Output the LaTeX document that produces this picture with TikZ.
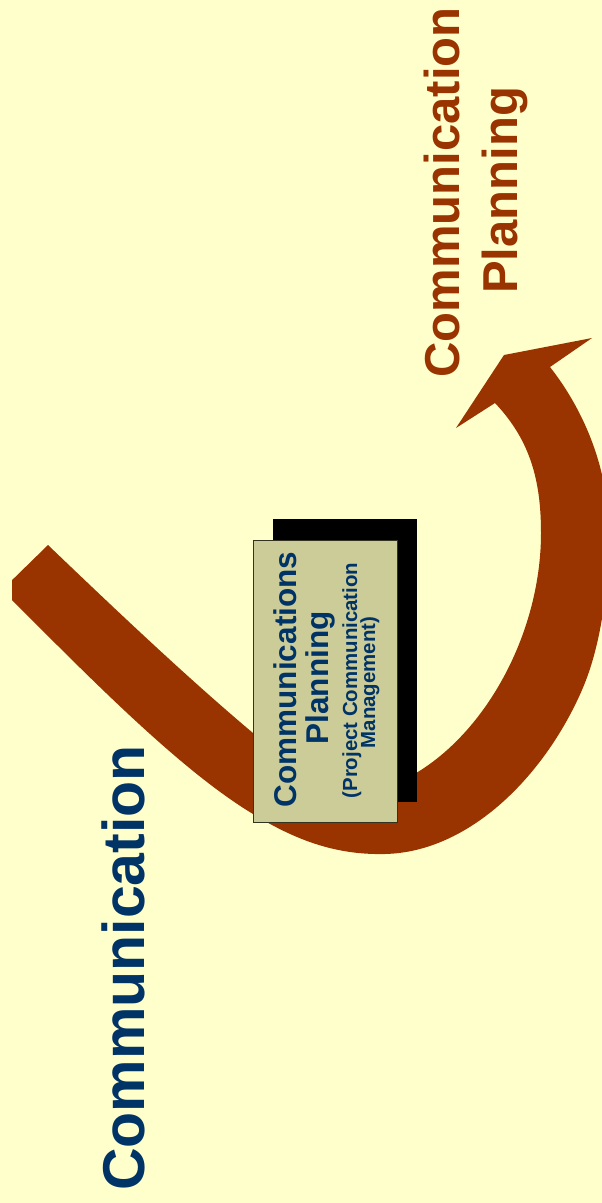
\documentclass[tikz,border=0pt]{standalone}
\usepackage{fontspec}
\setmainfont{Liberation Sans}
\definecolor{bgyellow}{HTML}{FFFFCC}
\definecolor{arrowbrown}{HTML}{993300}
\definecolor{navy}{HTML}{003366}
\definecolor{boxkhaki}{HTML}{CCCC99}
\definecolor{boxline}{HTML}{333322}
\tikzset{
  bigblue/.style={text=navy, font=\bfseries\fontsize{59}{59}\selectfont, rotate=90, anchor=base, inner sep=0pt},
  bigbrown/.style={text=arrowbrown, font=\bfseries\fontsize{49}{49}\selectfont, rotate=90, anchor=base, inner sep=0pt},
  boxbig/.style={text=navy, font=\bfseries\fontsize{31.5}{31.5}\selectfont, rotate=90, anchor=base, inner sep=0pt},
  boxsmall/.style={text=navy, font=\bfseries\fontsize{20.4}{20.4}\selectfont, rotate=90, anchor=base, inner sep=0pt},
  shadowbox/.style={fill=black, draw=none, inner sep=0pt, minimum width=144pt, minimum height=283pt},
  khakibox/.style={fill=boxkhaki, draw=boxline, line width=1pt, inner sep=0pt, minimum width=144pt, minimum height=282pt},
  bandfill/.style={fill=arrowbrown, draw=none}
}
\begin{document}
\begin{tikzpicture}[x=1pt,y=-1pt]
\fill[bgyellow] (0,0) rectangle (602,1203);
\useasboundingbox (0,0) rectangle (602,1203);
\begin{scope}
\clip (12,0) rectangle (602,1203);
\fill[bandfill] (12,600) .. controls (90,678) and (180,770) .. (253,814)
  .. controls (300,843) and (340,855) .. (385,854)
  .. controls (470,852) and (545,775) .. (582,690)
  .. controls (602,644) and (610,580) .. (608,520)
  .. controls (606,460) and (580,405) .. (550,367)
  -- (592,338) -- (504,355) -- (456,428) -- (495,403)
  .. controls (530,440) and (541,480) .. (541,533)
  .. controls (541,650) and (465,770) .. (370,792)
  .. controls (330,795) and (295,768) .. (253,733)
  .. controls (190,680) and (120,614) .. (48,545)
  -- (4,588) -- cycle;
\end{scope}
\node[shadowbox] (shadow) at (345,660.5) {};
\node[khakibox] (box) at (325,681) {};
\node[boxbig] (bl1) at (296.5,679.5) {Communications};
\node[boxbig] (bl2) at (328,678) {Planning};
\node[boxsmall] (bl3) at (357,680.5) {(Project Communication};
\node[boxsmall] (bl4) at (375,682.5) {Management)};
\node[bigblue] (comm) at (144.5,968) {Communication};
\node[bigbrown] (cp1) at (459.5,192.5) {Communication};
\node[bigbrown] (cp2) at (517,190.5) {Planning};
\end{tikzpicture}
\end{document}
